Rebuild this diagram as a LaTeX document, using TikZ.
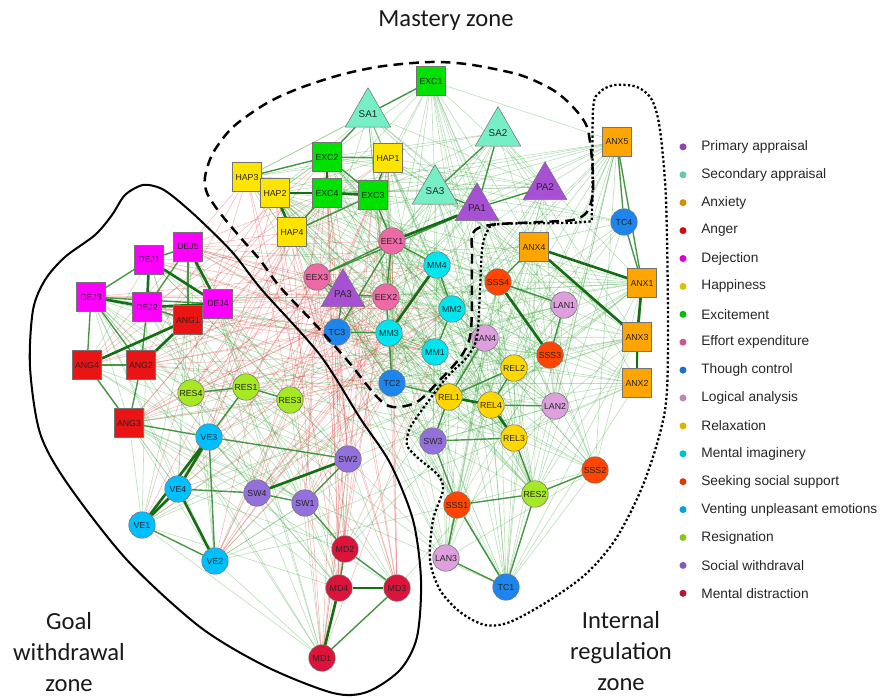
\documentclass[tikz,border=0pt]{standalone}
\usepackage{fontspec}
\setmainfont{Liberation Sans}
\newfontfamily\zonefont{Carlito}
\usetikzlibrary{shapes.geometric,backgrounds}

\definecolor{cPA}{RGB}{168,80,212}
\definecolor{cSA}{RGB}{118,238,198}
\definecolor{cANX}{RGB}{255,165,0}
\definecolor{cANG}{RGB}{235,20,20}
\definecolor{cDEJ}{RGB}{255,0,255}
\definecolor{cHAP}{RGB}{255,228,0}
\definecolor{cEXC}{RGB}{0,225,0}
\definecolor{cEEX}{RGB}{238,106,167}
\definecolor{cTC}{RGB}{28,134,238}
\definecolor{cLAN}{RGB}{221,160,221}
\definecolor{cREL}{RGB}{255,215,0}
\definecolor{cMM}{RGB}{0,229,238}
\definecolor{cSSS}{RGB}{255,69,0}
\definecolor{cVE}{RGB}{0,191,255}
\definecolor{cRES}{RGB}{166,232,36}
\definecolor{cSW}{RGB}{147,112,219}
\definecolor{cMD}{RGB}{220,20,60}
\definecolor{gstrong}{RGB}{20,110,20}
\definecolor{gmid}{RGB}{40,135,40}
\definecolor{gweak}{RGB}{60,165,60}
\definecolor{rweak}{RGB}{228,70,70}

\newcommand{\zoneM}{EXC1,SA1,SA2,SA3,PA1,PA2,PA3,HAP1,HAP2,HAP3,HAP4,EXC2,EXC3,EXC4,EEX1,EEX2,EEX3,MM1,MM2,MM3,MM4,TC2,TC3}
\newcommand{\zoneI}{ANX1,ANX2,ANX3,ANX4,ANX5,TC4,TC1,SSS1,SSS2,SSS3,SSS4,LAN1,LAN2,LAN3,LAN4,REL1,REL2,REL3,REL4,SW3,RES2}
\newcommand{\zoneW}{DEJ1,DEJ2,DEJ3,DEJ4,DEJ5,ANG1,ANG2,ANG3,ANG4,RES1,RES3,RES4,VE1,VE2,VE3,VE4,SW1,SW2,SW4,MD1,MD2,MD3,MD4}
\newcommand{\negsrc}{HAP1,HAP2,HAP3,HAP4,EXC2,EXC3,EXC4,EEX1,EEX2,EEX3,PA3,MM1,MM2,MM3,MM4,TC2,TC3}

\tikzset{
  nd/.style={draw=black!55, line width=0.3pt, inner sep=0pt, text=black!85, font=\fontsize{5}{6}\selectfont},
  circ/.style={nd, circle, minimum size=0.53cm},
  sq/.style={nd, rectangle, minimum size=0.58cm},
  tri/.style={nd, regular polygon, regular polygon sides=3, minimum size=0.86cm, font=\fontsize{5.6}{6}\selectfont},
  weakg/.style={gweak, opacity=0.35, line width=0.35pt},
  dotg/.style={gweak, opacity=0.4, line width=0.35pt, densely dotted},
  weakr/.style={rweak, opacity=0.35, line width=0.35pt},
  midg/.style={gmid, opacity=0.85, line width=0.8pt},
  strong/.style={gstrong, line width=1.5pt},
  zone/.style={font=\zonefont\fontsize{14}{17.6}\selectfont, align=center, text=black!90},
  masteryline/.style={line width=1.4pt, dash pattern=on 5.5pt off 3.5pt},
  regline/.style={line width=1.3pt, dash pattern=on 1.3pt off 1.3pt},
  goalline/.style={line width=1.15pt}
}

\begin{document}
\begin{tikzpicture}[x=0.02cm,y=-0.02cm]
  \useasboundingbox (0,0) rectangle (880,699);

  \node[sq, fill=cEXC] (EXC1) at (431,81) {EXC1};
  \node[sq, fill=cEXC] (EXC2) at (327,157) {EXC2};
  \node[sq, fill=cEXC] (EXC4) at (327,193) {EXC4};
  \node[sq, fill=cEXC] (EXC3) at (373,195) {EXC3};
  \node[sq, fill=cHAP] (HAP1) at (388,158) {HAP1};
  \node[sq, fill=cHAP] (HAP3) at (247,177) {HAP3};
  \node[sq, fill=cHAP] (HAP2) at (275,193) {HAP2};
  \node[sq, fill=cHAP] (HAP4) at (292,232) {HAP4};
  \node[tri, fill=cSA] (SA1) at (368,114) {SA1};
  \node[tri, fill=cSA] (SA2) at (498,133) {SA2};
  \node[tri, fill=cSA] (SA3) at (435,191) {SA3};
  \node[tri, fill=cPA] (PA1) at (477,208) {PA1};
  \node[tri, fill=cPA] (PA2) at (545,187) {PA2};
  \node[tri, fill=cPA] (PA3) at (343,294) {PA3};
  \node[circ, fill=cEEX] (EEX1) at (392,241) {EEX1};
  \node[circ, fill=cEEX] (EEX3) at (317,277) {EEX3};
  \node[circ, fill=cEEX] (EEX2) at (386,297) {EEX2};
  \node[circ, fill=cMM] (MM4) at (437,265) {MM4};
  \node[circ, fill=cMM] (MM2) at (452,309) {MM2};
  \node[circ, fill=cMM] (MM3) at (389,333) {MM3};
  \node[circ, fill=cMM] (MM1) at (435,352) {MM1};
  \node[circ, fill=cTC] (TC3) at (337,332) {TC3};
  \node[circ, fill=cTC] (TC2) at (392,383) {TC2};
  \node[circ, fill=cTC] (TC4) at (624,222) {TC4};
  \node[circ, fill=cTC] (TC1) at (506,587) {TC1};
  \node[sq, fill=cANX] (ANX5) at (617,142) {ANX5};
  \node[sq, fill=cANX] (ANX4) at (534,247) {ANX4};
  \node[sq, fill=cANX] (ANX1) at (642,283) {ANX1};
  \node[sq, fill=cANX] (ANX3) at (637,337) {ANX3};
  \node[sq, fill=cANX] (ANX2) at (637,383) {ANX2};
  \node[circ, fill=cSSS] (SSS4) at (498,282) {SSS4};
  \node[circ, fill=cSSS] (SSS3) at (550,355) {SSS3};
  \node[circ, fill=cSSS] (SSS2) at (595,470) {SSS2};
  \node[circ, fill=cSSS] (SSS1) at (457,505) {SSS1};
  \node[circ, fill=cLAN] (LAN1) at (564,305) {LAN1};
  \node[circ, fill=cLAN] (LAN4) at (485,338) {LAN4};
  \node[circ, fill=cLAN] (LAN2) at (555,406) {LAN2};
  \node[circ, fill=cLAN] (LAN3) at (446,558) {LAN3};
  \node[circ, fill=cREL] (REL2) at (514,368) {REL2};
  \node[circ, fill=cREL] (REL1) at (449,397) {REL1};
  \node[circ, fill=cREL] (REL4) at (491,405) {REL4};
  \node[circ, fill=cREL] (REL3) at (514,438) {REL3};
  \node[circ, fill=cSW] (SW3) at (433,441) {SW3};
  \node[circ, fill=cRES] (RES2) at (535,494) {RES2};
  \node[sq, fill=cDEJ] (DEJ1) at (149,260) {DEJ1};
  \node[sq, fill=cDEJ] (DEJ5) at (188,247) {DEJ5};
  \node[sq, fill=cDEJ] (DEJ3) at (91,297) {DEJ3};
  \node[sq, fill=cDEJ] (DEJ2) at (147,307) {DEJ2};
  \node[sq, fill=cDEJ] (DEJ4) at (218,304) {DEJ4};
  \node[sq, fill=cANG] (ANG1) at (188,320) {ANG1};
  \node[sq, fill=cANG] (ANG4) at (87,365) {ANG4};
  \node[sq, fill=cANG] (ANG2) at (141,365) {ANG2};
  \node[sq, fill=cANG] (ANG3) at (129,423) {ANG3};
  \node[circ, fill=cRES] (RES4) at (191,393) {RES4};
  \node[circ, fill=cRES] (RES1) at (246,387) {RES1};
  \node[circ, fill=cRES] (RES3) at (290,400) {RES3};
  \node[circ, fill=cVE] (VE3) at (209,437) {VE3};
  \node[circ, fill=cVE] (VE4) at (178,489) {VE4};
  \node[circ, fill=cVE] (VE1) at (142,525) {VE1};
  \node[circ, fill=cVE] (VE2) at (215,561) {VE2};
  \node[circ, fill=cSW] (SW2) at (348,459) {SW2};
  \node[circ, fill=cSW] (SW4) at (257,493) {SW4};
  \node[circ, fill=cSW] (SW1) at (305,503) {SW1};
  \node[circ, fill=cMD] (MD2) at (345,549) {MD2};
  \node[circ, fill=cMD] (MD4) at (339,588) {MD4};
  \node[circ, fill=cMD] (MD3) at (397,588) {MD3};
  \node[circ, fill=cMD] (MD1) at (322,658) {MD1};

  \pgfmathsetseed{11}
  \begin{scope}[on background layer]
    \fill[white] (0,0) rectangle (880,699);
    \foreach \a [count=\i] in \zoneM
      \foreach \b [count=\j] in \zoneM
        {\ifnum\i<\j \pgfmathsetmacro\pick{rnd}\ifdim\pick pt<0.4pt \draw[weakg] (\a) -- (\b);\fi\fi}
    \foreach \a [count=\i] in \zoneI
      \foreach \b [count=\j] in \zoneI
        {\ifnum\i<\j \pgfmathsetmacro\pick{rnd}\ifdim\pick pt<0.4pt \draw[weakg] (\a) -- (\b);\fi\fi}
    \foreach \a in \zoneM
      \foreach \b in \zoneI
        {\pgfmathsetmacro\pick{rnd}\ifdim\pick pt<0.25pt \draw[weakg] (\a) -- (\b);\else\ifdim\pick pt>0.9pt \draw[dotg] (\a) -- (\b);\fi\fi}
    \foreach \a [count=\i] in \zoneW
      \foreach \b [count=\j] in \zoneW
        {\ifnum\i<\j \pgfmathsetmacro\pick{rnd}\ifdim\pick pt<0.35pt \draw[weakg] (\a) -- (\b);\fi\fi}
    \foreach \a in \zoneW
      \foreach \b in \zoneI
        {\pgfmathsetmacro\pick{rnd}\ifdim\pick pt<0.1pt \draw[weakg] (\a) -- (\b);\fi}
    \foreach \a in \negsrc
      \foreach \b in \zoneW
        {\pgfmathsetmacro\pick{rnd}\ifdim\pick pt<0.3pt \draw[weakr] (\a) -- (\b);\fi}
    \draw[weakr] (REL3) -- (RES2);
    \draw[weakr, densely dotted] (SSS3) -- (ANX3);

    \foreach \a/\b in {DEJ1/DEJ3, DEJ1/DEJ5, DEJ3/DEJ4, DEJ3/ANG2, DEJ2/ANG2, DEJ2/ANG1, ANG4/ANG2,
      ANG4/ANG3, ANG2/ANG3, DEJ5/ANG1, DEJ4/ANG1, DEJ3/ANG4, DEJ5/DEJ2, RES4/RES1, RES1/RES3,
      RES1/VE3, VE3/VE2, VE1/VE2, VE4/SW4, SW4/SW1, SW1/SW2, SW2/VE3, SW1/MD2, MD2/MD4, MD2/MD3,
      MD3/MD1, VE3/ANG3, SW3/REL3, REL1/REL2, REL2/REL4, REL1/SW3, REL1/TC2, LAN4/REL1, TC4/ANX1,
      ANX5/ANX1, ANX5/TC4, ANX4/SSS4, SSS4/LAN1, EXC2/HAP1, EXC2/EXC3, HAP3/EXC2, HAP3/HAP2,
      EXC4/HAP4, EXC3/HAP4, SA1/EXC1, SA1/EXC2, HAP1/EXC3, EXC3/EEX1, EEX3/PA3, PA3/EEX2,
      EEX1/EEX2, EEX3/EEX1, TC3/MM3, MM3/TC2, TC3/EEX1, MM4/MM2, MM2/MM1, MM4/EEX1, PA1/SA2,
      PA1/SA3, PA1/PA2, SA2/SA3, PA1/EEX3, EEX2/MM3, TC3/PA3, SSS1/RES2, RES2/TC1, SSS1/TC1,
      SSS1/LAN3, LAN3/TC1, LAN1/SSS3, RES2/REL3, RES2/SSS2, SSS1/SW3, LAN2/REL4}
      \draw[midg] (\a) -- (\b);
    \foreach \a/\b in {EXC2/EXC4, EXC4/EXC3, HAP2/EXC4, HAP2/HAP4, DEJ1/DEJ4, DEJ5/DEJ4, DEJ3/DEJ2,
      DEJ2/DEJ4, DEJ1/DEJ2, ANG1/ANG2, ANG1/ANG4, VE3/VE4, VE4/VE1, VE4/VE2, VE3/VE1, SW4/SW2,
      MD4/MD3, MD4/MD1, ANX1/ANX3, ANX3/ANX2, ANX4/ANX1, ANX4/ANX3, SSS4/SSS3, REL1/REL4,
      REL4/REL3, PA1/EEX1, MM4/MM3}
      \draw[strong] (\a) -- (\b);
  \end{scope}

  \draw[masteryline] plot[smooth cycle] coordinates {(472,260) (473,233) (490,225) (540,222)
    (573,220) (587,212) (593,193) (592,160) (587,127) (573,107) (553,90) (520,75) (473,65)
    (440,62) (413,63) (377,67) (340,75) (300,88) (267,103) (233,127) (213,153) (205,177)
    (207,193) (220,213) (240,237) (260,260) (280,287) (313,322) (347,360) (377,397) (393,407)
    (417,402) (440,380) (462,355) (471,330)};
  \draw[regline] plot[smooth cycle] coordinates {(482,250) (487,232) (500,224) (583,222)
    (592,210) (593,110) (600,92) (615,85) (637,87) (652,100) (660,130) (666,200) (668,330)
    (665,410) (645,480) (617,537) (587,573) (550,600) (510,622) (485,625) (460,612) (440,590)
    (430,560) (433,520) (443,490) (438,475) (418,458) (407,445) (410,428) (427,403) (447,377)
    (467,357) (477,337) (480,290)};
  \draw[goalline] plot[smooth cycle] coordinates {(143,185) (160,188) (175,198) (200,220)
    (233,253) (262,290) (320,355) (360,418) (390,463) (413,520) (421,580) (417,637) (400,670)
    (367,692) (333,693) (267,667) (200,627) (127,560) (67,483) (40,433) (30,367) (33,310)
    (45,280) (65,257) (95,235) (112,215) (125,195)};

  \node[zone] (mastery) at (446,21) {Mastery zone};
  \node[zone] (goalzone) at (69,652) {Goal\\withdrawal\\zone};
  \node[zone] (regzone) at (621,651) {Internal\\regulation\\zone};

  \foreach \c/\t [count=\i] in {cPA/Primary appraisal, cSA/Secondary appraisal, cANX/Anxiety,
    cANG/Anger, cDEJ/Dejection, cHAP/Happiness, cEXC/Excitement, cEEX/Effort expenditure,
    cTC/Though control, cLAN/Logical analysis, cREL/Relaxation, cMM/Mental imaginery,
    cSSS/Seeking social support, cVE/Venting unpleasant emotions, cRES/Resignation,
    cSW/Social withdraval, cMD/Mental distraction}
  {
    \node[circle, fill=\c!85!black, inner sep=0pt, minimum size=4pt] (dot\i) at (683,119+27.9*\i) {};
    \node[anchor=west, inner sep=0pt, text=black!85, font=\fontsize{7.8}{9}\selectfont] (leg\i) at (701,119+27.9*\i) {\t};
  }
\end{tikzpicture}
\end{document}
